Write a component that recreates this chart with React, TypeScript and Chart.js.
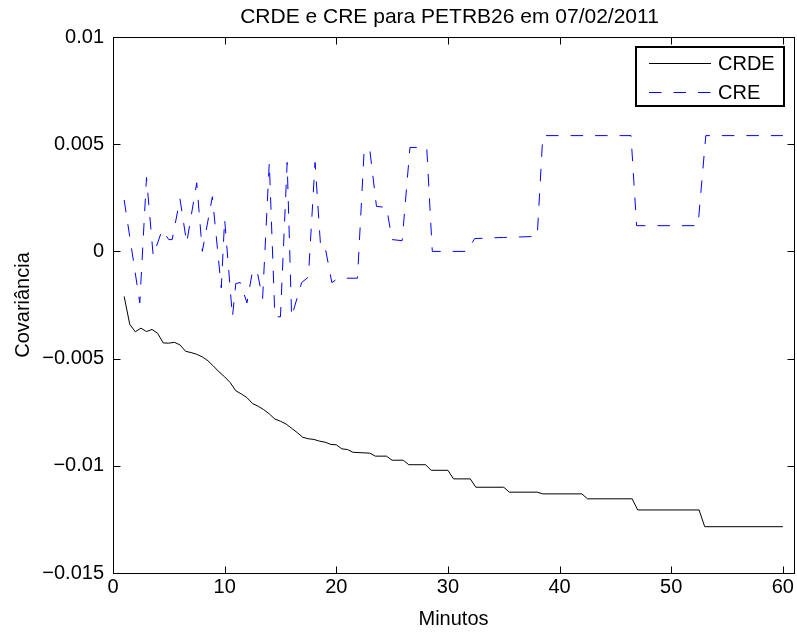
import React, { useEffect, useRef } from 'react';
import { Chart, registerables } from 'chart.js';

Chart.register(...registerables);

const titleText = 'CRDE e CRE para PETRB26 em 07/02/2011';
const xTitle = 'Minutos';
const yTitle = 'Covariância';

const xTickValues = [0, 10, 20, 30, 40, 50, 60];
const xTickLabels = ['0', '10', '20', '30', '40', '50', '60'];
const yTickValues = [-0.015, -0.01, -0.005, 0, 0.005, 0.01];
const yTickLabels = ['\u22120.015', '\u22120.01', '\u22120.005', '0', '0.005', '0.01'];

const seriesNames = ['CRDE', 'CRE'];

const crdeMinutes = [
  1.0, 1.5, 2.0, 2.5, 3.0, 3.5, 4.0, 4.5, 5.0, 5.5, 6.0, 6.5, 7.0, 7.5, 8.0, 8.5, 9.0, 9.5,
  10.0, 10.5, 11.0, 11.5, 12.0, 12.5, 13.0, 13.5, 14.0, 14.5, 15.0, 15.5, 16.0, 16.5, 17.0,
  17.5, 18.0, 18.5, 19.0, 19.5, 20.0, 20.5, 21.0, 21.5, 23.0, 23.5, 24.5, 25.0, 26.0, 26.5,
  28.0, 28.5, 30.0, 30.5, 32.0, 32.5, 35.0, 35.5, 38.0, 38.5, 42.0, 42.5, 46.5, 47.0, 52.5,
  53.0, 60.0,
];
const crdeValues = [
  -0.0021, -0.0034, -0.00375, -0.00358, -0.00374, -0.00364, -0.00382, -0.00427, -0.00428,
  -0.00424, -0.00436, -0.00466, -0.00472, -0.0048, -0.00492, -0.0051, -0.00535, -0.00562,
  -0.00585, -0.00612, -0.0065, -0.00665, -0.00682, -0.0071, -0.00722, -0.00738, -0.00758,
  -0.00782, -0.00792, -0.00805, -0.00825, -0.00845, -0.00867, -0.00874, -0.00877, -0.00885,
  -0.0089, -0.009, -0.00902, -0.00921, -0.00924, -0.00937, -0.00941, -0.00955, -0.00955,
  -0.00974, -0.00974, -0.00995, -0.00995, -0.01021, -0.01021, -0.01061, -0.01061, -0.011,
  -0.011, -0.01123, -0.01123, -0.01131, -0.01131, -0.01154, -0.01154, -0.01206, -0.01206,
  -0.01284, -0.01284,
];

const creMinutes = [
  1.0, 2.4, 3.0, 3.6, 4.4, 5.0, 5.3, 6.0, 6.6, 7.5, 8.0, 8.9, 9.7, 10.0, 10.7, 11.0, 11.4,
  12.0, 12.5, 12.9, 13.4, 14.0, 14.5, 15.0, 15.6, 16.0, 16.9, 17.5, 18.1, 18.6, 19.0, 19.6,
  20.2, 21.9, 22.5, 23.0, 23.6, 24.5, 25.0, 25.9, 26.6, 28.1, 28.6, 31.7, 32.4, 35.0, 38.0,
  38.5, 46.4, 46.9, 52.4, 53.1, 60.0,
];
const creValues = [
  0.0024, -0.0024, 0.00345, -0.0002, 0.001, 0.00055, 0.00055, 0.00245, 0.0004, 0.0032, 0.0,
  0.00255, -0.0017, 0.0015, -0.00305, -0.0015, -0.00145, -0.0024, -0.0009, -0.0009, -0.0022,
  0.00415, -0.00305, -0.00305, 0.00415, -0.00305, -0.00145, -0.0012, 0.00415, 0.0002, 0.0002,
  -0.00145, -0.00125, -0.00125, 0.00475, 0.00475, 0.0021, 0.00205, 0.00055, 0.0005, 0.00485,
  0.00485, 0.0, 0.0, 0.0006, 0.00065, 0.0007, 0.0054, 0.0054, 0.0012, 0.0012, 0.0054, 0.0054,
];

const FONT = "'Liberation Sans', Arial, Helvetica, sans-serif";

const decorPlugin = {
  id: 'matlabDecor',
  afterDraw(chart: any) {
    const { ctx, chartArea: a, scales } = chart;
    const xs = scales.x;
    const ys = scales.y;
    ctx.save();
    // frame
    ctx.strokeStyle = '#000';
    ctx.lineWidth = 1;
    ctx.setLineDash([]);
    ctx.strokeRect(a.left + 0.5, a.top + 0.5, a.right - a.left, a.bottom - a.top);
    // inward ticks on all sides
    const tl = 7;
    ctx.beginPath();
    xTickValues.forEach((v) => {
      const p = Math.round(xs.getPixelForValue(v)) + 0.5;
      ctx.moveTo(p, a.bottom + 0.5);
      ctx.lineTo(p, a.bottom + 0.5 - tl);
      ctx.moveTo(p, a.top + 0.5);
      ctx.lineTo(p, a.top + 0.5 + tl);
    });
    yTickValues.forEach((v) => {
      const p = Math.round(ys.getPixelForValue(v)) + 0.5;
      ctx.moveTo(a.left + 0.5, p);
      ctx.lineTo(a.left + 0.5 + tl, p);
      ctx.moveTo(a.right + 0.5, p);
      ctx.lineTo(a.right + 0.5 - tl, p);
    });
    ctx.stroke();

    // texts
    ctx.fillStyle = '#000';
    ctx.textAlign = 'center';
    ctx.textBaseline = 'alphabetic';
    const cx = (a.left + a.right) / 2;
    ctx.font = `21px ${FONT}`;
    ctx.fillText(titleText, cx - 4, a.top - 14);
    ctx.font = `20px ${FONT}`;
    ctx.fillText(xTitle, cx, a.bottom + 52);
    ctx.save();
    ctx.translate(a.left - 84, (a.top + a.bottom) / 2);
    ctx.rotate(-Math.PI / 2);
    ctx.fillText(yTitle, 0, 0);
    ctx.restore();

    // legend
    const lw = 148;
    const lh = 59;
    const lx = a.right - 158;
    const ly = a.top + 10;
    ctx.fillStyle = '#fff';
    ctx.fillRect(lx, ly, lw, lh);
    ctx.strokeStyle = '#000';
    ctx.lineWidth = 2;
    ctx.strokeRect(lx, ly, lw, lh);
    const rows = [ly + 16, ly + 45];
    chart.data.datasets.forEach((ds: any, i: number) => {
      const y = Math.round(rows[i]) + 0.5;
      ctx.strokeStyle = ds.borderColor;
      ctx.lineWidth = ds.borderWidth;
      ctx.setLineDash(ds.borderDash || []);
      ctx.beginPath();
      ctx.moveTo(lx + 13, y);
      ctx.lineTo(lx + 75, y);
      ctx.stroke();
      ctx.setLineDash([]);
      ctx.fillStyle = '#000';
      ctx.textAlign = 'left';
      ctx.textBaseline = 'middle';
      ctx.fillText(ds.label, lx + 82, y + 1);
    });
    ctx.restore();
  },
};

export default function App() {
  const ref = useRef<HTMLCanvasElement | null>(null);

  useEffect(() => {
    document.body.style.margin = '0';
    const canvas = ref.current;
    if (!canvas) return;
    const chart = new Chart(canvas, {
      type: 'line',
      data: {
        datasets: [
          {
            label: seriesNames[0],
            data: crdeMinutes.map((m, i) => ({ x: m, y: crdeValues[i] })),
            borderColor: '#000000',
            borderWidth: 1,
            pointRadius: 0,
            tension: 0,
            fill: false,
          },
          {
            label: seriesNames[1],
            data: creMinutes.map((m, i) => ({ x: m, y: creValues[i] })),
            borderColor: '#0000ff',
            borderWidth: 1,
            borderDash: [12.5, 12],
            pointRadius: 0,
            tension: 0,
            fill: false,
          },
        ],
      },
      options: {
        animation: false,
        responsive: false,
        devicePixelRatio: 1,
        events: [],
        layout: { padding: { top: 37, right: 3, left: 0, bottom: 0 } },
        plugins: {
          legend: { display: false },
          title: { display: false },
          tooltip: { enabled: false },
        },
        scales: {
          x: {
            type: 'linear',
            min: 0,
            max: 61,
            grid: { display: false, drawTicks: false },
            border: { display: false },
            afterBuildTicks: (s: any) => {
              s.ticks = xTickValues.map((v) => ({ value: v }));
            },
            afterFit: (s: any) => {
              s.height = 61;
            },
            ticks: {
              autoSkip: false,
              maxRotation: 0,
              padding: 2,
              color: '#000',
              font: { family: FONT, size: 20 },
              callback: (_v: any, i: number) => xTickLabels[i],
            },
          },
          y: {
            type: 'linear',
            min: -0.015,
            max: 0.01,
            grid: { display: false, drawTicks: false },
            border: { display: false },
            afterBuildTicks: (s: any) => {
              s.ticks = yTickValues.map((v) => ({ value: v }));
            },
            afterFit: (s: any) => {
              s.width = 113;
            },
            ticks: {
              autoSkip: false,
              padding: 9,
              color: '#000',
              font: { family: FONT, size: 20 },
              callback: (_v: any, i: number) => yTickLabels[i],
            },
          },
        },
      },
      plugins: [decorPlugin],
    } as any);
    return () => chart.destroy();
  }, []);

  return (
    <div style={{ position: 'absolute', left: 0, top: 0, width: 797, height: 634, background: '#fff' }}>
      <canvas ref={ref} width={797} height={634} style={{ width: 797, height: 634, display: 'block' }} />
    </div>
  );
}
